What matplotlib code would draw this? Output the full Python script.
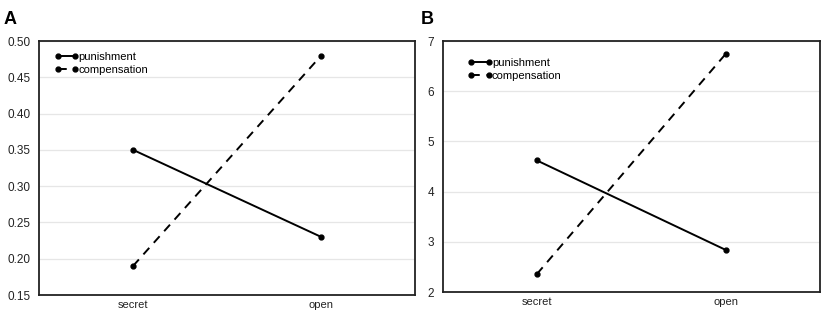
import matplotlib
matplotlib.use('Agg')
import matplotlib.pyplot as plt

# 数据
conditions = ['secret', 'open']
punish_a = [0.35, 0.23]
comp_a = [0.19, 0.48]
punish_b = [4.62, 2.84]
comp_b = [2.36, 6.74]

yticks_a = [0.15, 0.20, 0.25, 0.30, 0.35, 0.40, 0.45, 0.50]
yticks_b = [2, 3, 4, 5, 6, 7]

plt.rcParams['font.family'] = ['Liberation Sans', 'DejaVu Sans']

fig = plt.figure(figsize=(8.29, 3.13), dpi=100)
ax_a = fig.add_axes([0.047, 0.0575, 0.454, 0.8115])
ax_b = fig.add_axes([0.534, 0.067, 0.455, 0.802])


def draw(ax, punish, comp, yticks, fmt, leg_anchor):
    x = range(len(conditions))
    ax.plot(x, punish, color='black', lw=1.4, marker='o', ms=3.5, label='punishment')
    ax.plot(x, comp, color='black', lw=1.4, ls=(0, (4.5, 3.5)), marker='o', ms=3.5,
            label='compensation')
    ax.set_xlim(-0.5, 1.5)
    ax.set_ylim(yticks[0], yticks[-1])
    ax.set_yticks(yticks)
    ax.set_yticklabels([fmt.format(t) for t in yticks])
    ax.set_xticks(list(x))
    ax.set_xticklabels(conditions)
    ax.tick_params(axis='y', length=0, labelsize=8.5, pad=6, labelcolor='#222222')
    ax.tick_params(axis='x', length=0, labelsize=8, pad=3.5, labelcolor='#222222')
    ax.yaxis.grid(True, color='#e6e6e6', lw=0.9)
    ax.set_axisbelow(True)
    for s in ax.spines.values():
        s.set_linewidth(1.3)
        s.set_color('#222222')
    ax.legend(loc='upper left', bbox_to_anchor=leg_anchor, frameon=False,
              fontsize=8, handlelength=2.2, handletextpad=0.0, labelspacing=0.25,
              numpoints=2, borderaxespad=0)


draw(ax_a, punish_a, comp_a, yticks_a, '{:.2f}', (0.029, 0.975))
draw(ax_b, punish_b, comp_b, yticks_b, '{:d}', (0.054, 0.95))

fig.text(0.004, 0.965, 'A', fontsize=13, fontweight='bold', va='top')
fig.text(0.508, 0.965, 'B', fontsize=13, fontweight='bold', va='top')

fig.savefig('out.png', dpi=100)
